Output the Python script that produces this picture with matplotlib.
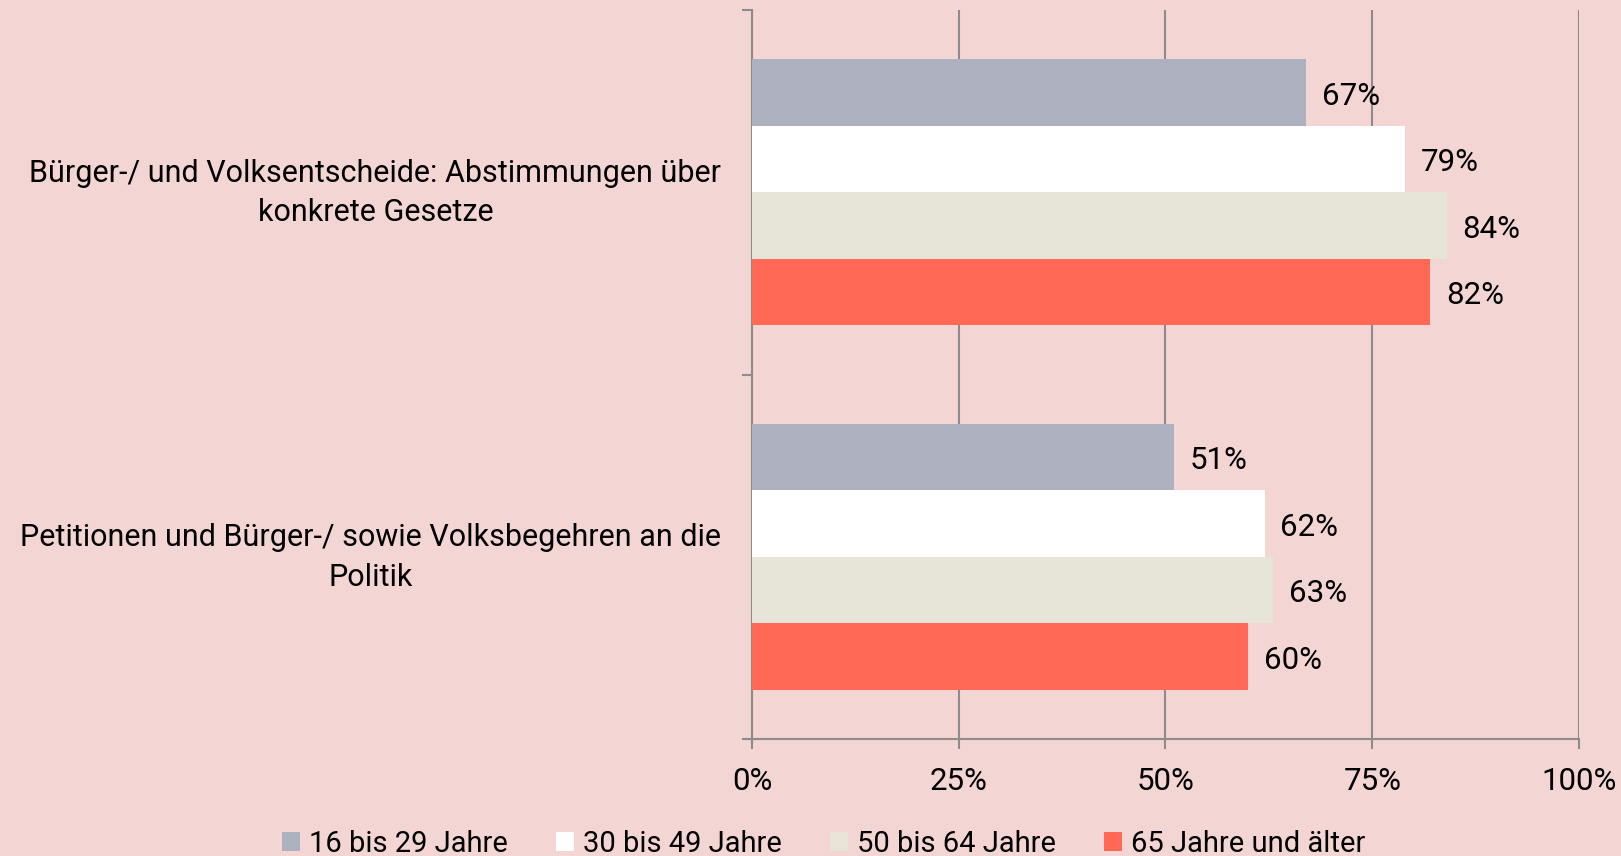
import matplotlib
matplotlib.use("Agg")
import matplotlib.pyplot as plt
from matplotlib.patches import Patch

# data
categories = ["Bürger-/ und Volksentscheide: Abstimmungen über\nkonkrete Gesetze",
              "Petitionen und Bürger-/ sowie Volksbegehren an die\nPolitik"]
series_names = ["16 bis 29 Jahre", "30 bis 49 Jahre", "50 bis 64 Jahre", "65 Jahre und älter"]
age_16_29 = [67, 51]
age_30_49 = [79, 62]
age_50_64 = [84, 63]
age_65_plus = [82, 60]
x_ticks = [0, 25, 50, 75, 100]
x_tick_labels = ["0%", "25%", "50%", "75%", "100%"]

colors = ["#ADB1BF", "#FFFFFF", "#E7E5D8", "#FF6955"]
bg = "#F3D6D3"
grid_col = "#8C8C8C"

plt.rcParams['font.family'] = ['Roboto', 'DejaVu Sans']
plt.rcParams['font.size'] = 22

fig = plt.figure(figsize=(16.21, 8.56), dpi=100, facecolor=bg)
ax = fig.add_axes([0.4639, 0.1367, 0.5102, 0.8516])
ax.set_facecolor(bg)

all_series = [age_16_29, age_30_49, age_50_64, age_65_plus]
bar_h = 0.73 / 4
for i, vals in enumerate(all_series):
    for c, v in enumerate(vals):
        y = c - 0.365 + bar_h * (i + 0.5)
        ax.barh(y, v, height=bar_h, color=colors[i], zorder=3)
        ax.text(v + 1.9, y + 0.01, f"{v}%", va="center", ha="left", fontsize=22.5, zorder=4)

ax.set_xlim(0, 100)
ax.set_ylim(1.5, -0.5)
ax.set_xticks(x_ticks)
ax.set_xticklabels(x_tick_labels, fontsize=22.5)
ax.xaxis.grid(True, color=grid_col, linewidth=1.5, zorder=0)

# category boundaries as ticks, names drawn as text
ax.set_yticks([-0.5, 0.5, 1.5])
ax.set_yticklabels([])
for c, name in enumerate(categories):
    ax.text(-0.037, c + 0.002, name, transform=ax.get_yaxis_transform(), ha="right", va="center",
            multialignment="center", linespacing=1.45, fontsize=22)

ax.tick_params(axis="y", which="major", length=7, width=1.5, color=grid_col, direction="out")
ax.tick_params(axis="x", length=7, width=1.5, color=grid_col, direction="out", pad=13)

for s in ["top", "right"]:
    ax.spines[s].set_visible(False)
for s in ["left", "bottom"]:
    ax.spines[s].set_color(grid_col)
    ax.spines[s].set_linewidth(1.5)

handles = [Patch(facecolor=colors[i], edgecolor="none", label=series_names[i]) for i in range(4)]
fig.legend(handles=handles, loc="center", bbox_to_anchor=(0.508, 0.014), ncol=4, frameon=False,
           handlelength=0.62, handleheight=0.62, handletextpad=0.3, columnspacing=1.65, fontsize=21)

fig.savefig("out.png", dpi=100, facecolor=bg)
